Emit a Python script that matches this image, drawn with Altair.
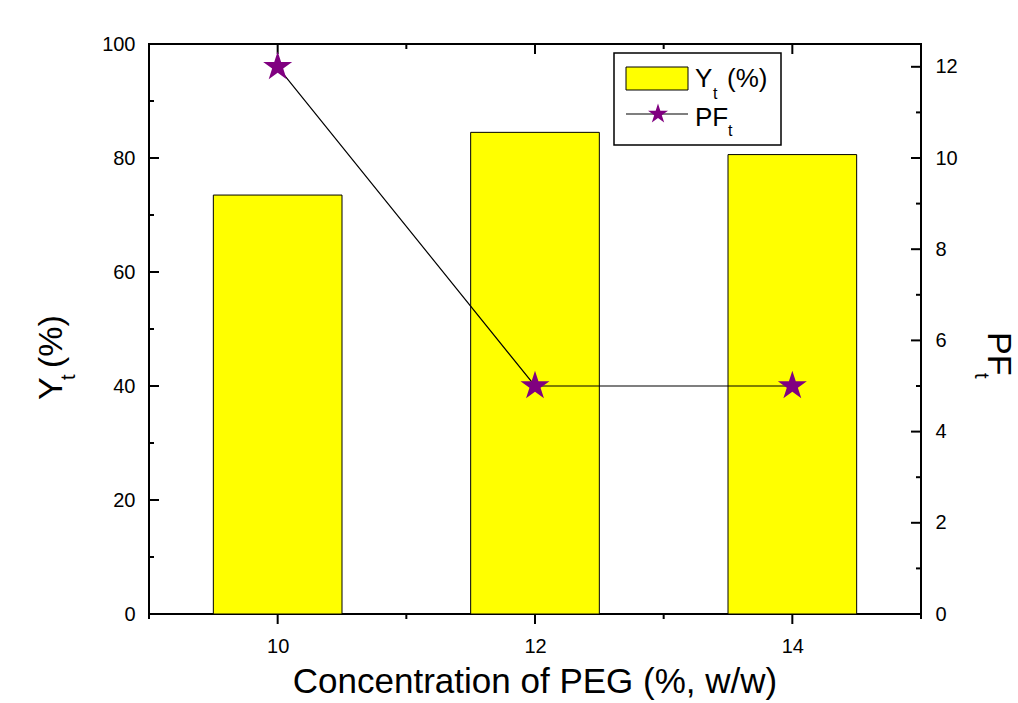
import altair as alt
import pandas as pd

# ---- data ----
conc = [10, 12, 14]
yt = [73.5, 84.5, 80.6]
pf = [12, 5, 5]

x_major = [10, 12, 14]
x_minor = [9, 11, 13, 15]
yl_major = [0, 20, 40, 60, 80, 100]
yl_minor = [10, 30, 50, 70, 90]
yr_major = [0, 2, 4, 6, 8, 10, 12]
yr_minor = [1, 3, 5, 7, 9, 11]

W, H = 772, 570
FONT = "Liberation Sans"
STAR = ("M0,-1L0.2245,-0.309L0.951,-0.309L0.363,0.118L0.588,0.809L0,0.382"
        "L-0.588,0.809L-0.363,0.118L-0.951,-0.309L-0.2245,-0.309Z")

df = pd.DataFrame({"conc": conc, "yt": yt, "pf": pf})
df["x0"] = df["conc"] - 0.5
df["x1"] = df["conc"] + 0.5

xscale = alt.Scale(domain=[9, 15], nice=False, zero=False)
ylscale = alt.Scale(domain=[0, 100], nice=False, zero=False)
yrscale = alt.Scale(domain=[0, 12.5], nice=False, zero=False)

bars = alt.Chart(df).mark_rect(fill="#FFFF00", stroke="black", strokeWidth=1).encode(
    x=alt.X("x0:Q", scale=xscale, axis=alt.Axis(
        orient="bottom", values=x_major, format="d", ticks=False,
        domain=False, grid=False, title=None, labelFont=FONT, labelFontSize=20,
        labelColor="black", labelPadding=22)),
    x2="x1:Q",
    y=alt.Y("yt:Q", scale=ylscale, axis=alt.Axis(
        orient="left", values=yl_major, format="d", ticks=False,
        domain=False, grid=False, title=None, labelFont=FONT, labelFontSize=20,
        labelColor="black", labelPadding=14)),
    y2=alt.Y2("zero:Q"),
).transform_calculate(zero="0")

line = alt.Chart(df).mark_line(color="black", strokeWidth=1.2).encode(
    x=alt.X("conc:Q", scale=xscale),
    y=alt.Y("pf:Q", scale=yrscale, axis=alt.Axis(
        orient="right", values=yr_major, format="d", ticks=False,
        domain=False, grid=False, title=None, labelFont=FONT, labelFontSize=20,
        labelColor="black", labelPadding=14)),
)

stars = alt.Chart(df).mark_point(shape=STAR, filled=True, color="#800080",
                                 size=930, opacity=1).encode(
    x=alt.X("conc:Q", scale=xscale),
    y=alt.Y("pf:Q", scale=yrscale),
)


def vrules(vals, scale, x_from, x_to):
    return alt.Chart(pd.DataFrame({"v": vals})).mark_rule(color="black", strokeWidth=2).encode(
        y=alt.Y("v:Q", scale=scale),
        x=alt.value(x_from), x2=alt.value(x_to))


def hrules(vals, y_from, y_to):
    return alt.Chart(pd.DataFrame({"v": vals})).mark_rule(color="black", strokeWidth=2).encode(
        x=alt.X("v:Q", scale=xscale),
        y=alt.value(y_from), y2=alt.value(y_to))


left = alt.layer(bars, vrules(yl_major, ylscale, 0, 10), vrules(yl_minor, ylscale, 0, 5),
                 hrules(x_major, 0, 10), hrules(x_minor, 0, 5),
                 hrules(x_major, H, H + 10), hrules(x_minor, H, H + 5))
right = alt.layer(line, stars, vrules(yr_major, yrscale, W, W - 10),
                  vrules(yr_minor, yrscale, W, W - 5))

one = pd.DataFrame({"a": [1]})


def txt(s, x, y, size, angle=0, align="left"):
    kw = dict(font=FONT, fontSize=size, color="black", align=align, baseline="alphabetic")
    if angle:
        kw["angle"] = angle
    return alt.Chart(one).mark_text(**kw).encode(
        x=alt.value(x), y=alt.value(y), text=alt.value(s))


deco = [
    txt("Concentration of PEG (%, w/w)", W / 2, 649, 35, align="center"),
    txt("Y", -87, 356, 34, angle=270),
    txt("t", -74, 336, 20, angle=270),
    txt("(%)", -87, 324, 34, angle=270),
    txt("PF", 839, 288, 34, angle=90),
    txt("t", 826, 329, 20, angle=90),
    alt.Chart(one).mark_rect(fill="white", stroke="black", strokeWidth=1.5).encode(
        x=alt.value(465), x2=alt.value(632), y=alt.value(9), y2=alt.value(101)),
    alt.Chart(one).mark_rect(fill="#FFFF00", stroke="black", strokeWidth=1).encode(
        x=alt.value(477), x2=alt.value(539), y=alt.value(23), y2=alt.value(46)),
    alt.Chart(one).mark_rule(color="black", strokeWidth=1.2).encode(
        x=alt.value(477), x2=alt.value(539), y=alt.value(70), y2=alt.value(70)),
    alt.Chart(one).mark_point(shape=STAR, filled=True, color="#800080",
                              size=440, opacity=1).encode(
        x=alt.value(509), y=alt.value(70)),
    txt("Y", 546, 43, 26),
    txt("t", 564, 55, 16),
    txt("(%)", 578, 43, 26),
    txt("PF", 546, 82, 26),
    txt("t", 579, 92, 16),
]

chart = alt.layer(left, right, *deco).resolve_scale(y="independent").properties(
    width=W, height=H,
    autosize=alt.AutoSizeParams(type="none"),
    padding={"left": 149, "top": 44, "right": 97, "bottom": 89},
).configure(background="white").configure_view(stroke="black", strokeWidth=2)

chart.save("out.html", embed_options={"renderer": "svg", "actions": False})
